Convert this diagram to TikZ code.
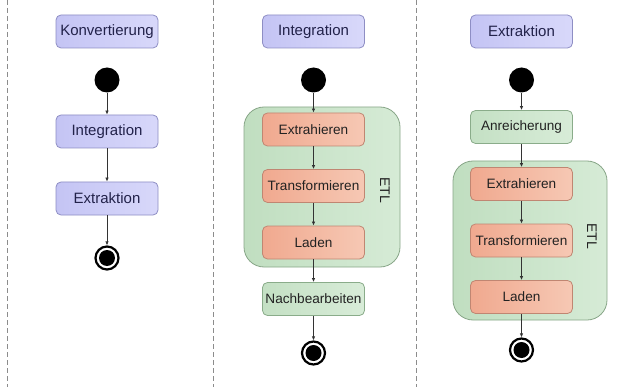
\documentclass[tikz,border=0pt]{standalone}
\usepackage{fontspec}
\setmainfont{Liberation Sans}
\usetikzlibrary{arrows.meta}
\definecolor{lavL}{HTML}{C4C4F4}
\definecolor{lavR}{HTML}{D8D8FA}
\definecolor{lavEdge}{HTML}{8E8EC4}
\definecolor{lavText}{HTML}{22224A}
\definecolor{orL}{HTML}{F0A98F}
\definecolor{orR}{HTML}{F6C8B4}
\definecolor{orEdge}{HTML}{C08672}
\definecolor{grL}{HTML}{C4E0C4}
\definecolor{grR}{HTML}{D8ECD8}
\definecolor{grEdge}{HTML}{8AAC8A}
\definecolor{etlL}{HTML}{C0DEC0}
\definecolor{etlR}{HTML}{D6EBD6}
\definecolor{etlEdge}{HTML}{88A688}
\definecolor{darkText}{HTML}{222222}
\definecolor{sepGray}{HTML}{8C8C8C}
\definecolor{flowGray}{HTML}{333333}
\begin{document}
\begin{tikzpicture}[x=1pt,y=-1pt,
  actbox/.style={draw, rounded corners=5pt, minimum width=102pt,
    minimum height=33pt, inner sep=0pt, line width=0.8pt},
  lavbox/.style={actbox, draw=lavEdge, left color=lavL, right color=lavR,
    text=lavText, font=\fontsize{15}{17}\selectfont},
  orbox/.style={actbox, draw=orEdge, left color=orL, right color=orR,
    text=darkText, font=\fontsize{13.6}{15}\selectfont},
  grbox/.style={actbox, draw=grEdge, left color=grL, right color=grR,
    text=darkText, font=\fontsize{13.6}{15}\selectfont},
  etlbox/.style={draw=etlEdge, rounded corners=20pt, line width=0.8pt,
    left color=etlL, right color=etlR, inner sep=0pt},
  etllabel/.style={rotate=-90, text=darkText, font=\fontsize{14}{16}\selectfont},
  startdot/.style={circle, fill=black, minimum size=25pt, inner sep=0pt},
  enddot/.style={circle, draw=black, line width=2.2pt, fill=white,
    minimum size=23pt, inner sep=0pt,
    path picture={\fill[black] (path picture bounding box.center) circle (8pt);}},
  flow/.style={draw=flowGray, line width=0.7pt, -{Latex[length=4pt,width=3.4pt]}},
  separator/.style={draw=sepGray, line width=0.8pt, dash pattern=on 5pt off 3pt}
]
\useasboundingbox (0,0) rectangle (620,387);
\fill[white] (0,0) rectangle (620,387);

% column separators
\draw[separator] (7,0) -- (7,387);
\draw[separator] (213,0) -- (213,387);
\draw[separator] (416,0) -- (416,387);

% ---- Konvertierung ----
\node[lavbox] (k0) at (107,31.5) {Konvertierung};
\node[startdot] (ks) at (107,80) {};
\node[lavbox] (ki) at (107,131.5) {Integration};
\node[lavbox] (ke) at (107,198.5) {Extraktion};
\node[enddot] (kf) at (107,258) {};
\draw[flow] (ks) -- (ki);
\draw[flow] (ki) -- (ke);
\draw[flow] (ke) -- (kf);

% ---- Integration ----
\node[lavbox] (i0) at (313.5,31.5) {Integration};
\node[startdot] (is) at (313.5,80) {};
\node[etlbox, minimum width=156pt, minimum height=160pt] (ietl) at (322,187) {};
\node[etllabel] (ietlt) at (385,190) {ETL};
\node[orbox] (ix) at (313.5,129.5) {Extrahieren};
\node[orbox] (it) at (313.5,186) {Transformieren};
\node[orbox] (il) at (313.5,242.5) {Laden};
\node[grbox] (in) at (313.5,299) {Nachbearbeiten};
\node[enddot] (if) at (313.5,353) {};
\draw[flow] (is) -- (ix);
\draw[flow] (ix) -- (it);
\draw[flow] (it) -- (il);
\draw[flow] (il) -- (in);
\draw[flow] (in) -- (if);

% ---- Extraktion ----
\node[lavbox] (e0) at (521.5,31.5) {Extraktion};
\node[startdot] (es) at (521.5,80) {};
\node[grbox] (ea) at (521.5,127) {Anreicherung};
\node[etlbox, minimum width=154pt, minimum height=159pt] (eetl) at (530,240.5) {};
\node[etllabel] (eetlt) at (592,236) {ETL};
\node[orbox] (ex) at (521.5,184) {Extrahieren};
\node[orbox] (et) at (521.5,240.5) {Transformieren};
\node[orbox] (el) at (521.5,297) {Laden};
\node[enddot] (ef) at (521.5,350) {};
\draw[flow] (es) -- (ea);
\draw[flow] (ea) -- (ex);
\draw[flow] (ex) -- (et);
\draw[flow] (et) -- (el);
\draw[flow] (el) -- (ef);
\end{tikzpicture}
\end{document}
